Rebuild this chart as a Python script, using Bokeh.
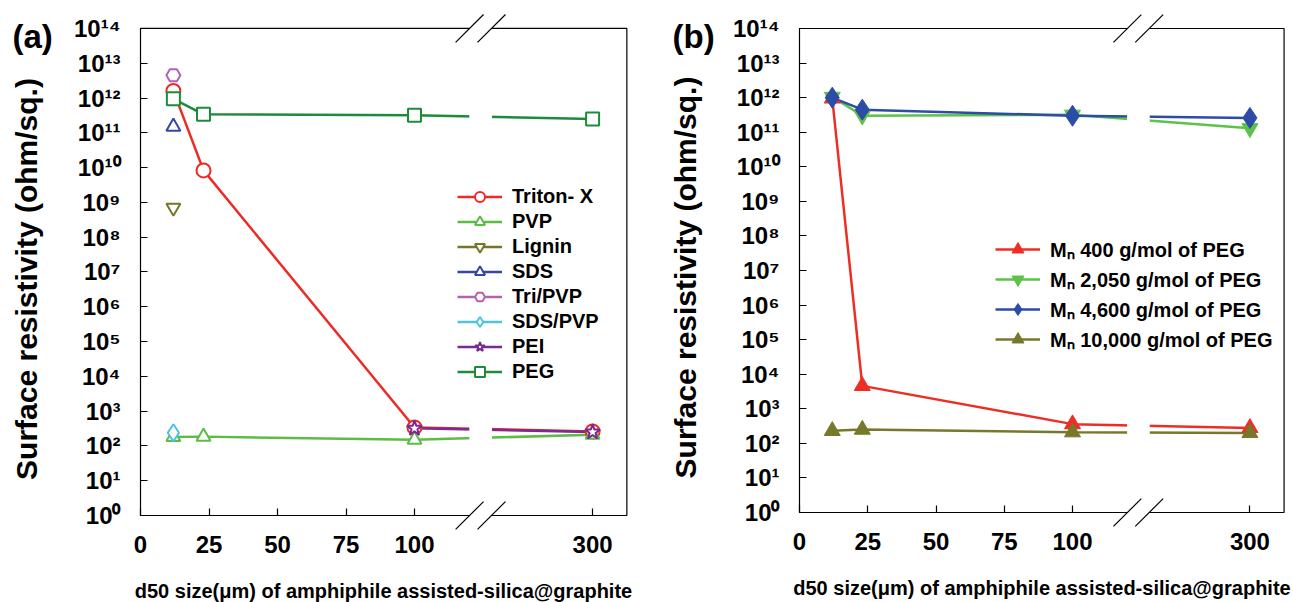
from bokeh.plotting import figure
from bokeh.models import FixedTicker, Range1d, Label
from bokeh.layouts import row
from bokeh.embed import file_html
from bokeh.resources import INLINE

# ---------------- data ----------------
x_tick_values = [0, 25, 50, 75, 100, 300]
y_tick_exponents = list(range(0, 15))

# panel (a)
a_names = ["Triton- X", "PVP", "Lignin", "SDS", "Tri/PVP", "SDS/PVP", "PEI", "PEG"]
triton_x = [12, 23, 100, 300]
triton_y = [1.6e12, 8.3e9, 3.4e2, 2.6e2]
pvp_x = [12, 23, 100, 300]
pvp_y = [1.8e2, 1.85e2, 1.5e2, 2.1e2]
lignin_x = [12]
lignin_y = [7.0e8]
sds_x = [12]
sds_y = [1.5e11]
tripvp_x = [12]
tripvp_y = [4.5e12]
sdspvp_x = [12]
sdspvp_y = [2.4e2]
pei_x = [100, 300]
pei_y = [3.2e2, 2.5e2]
peg_x = [12, 23, 100, 300]
peg_y = [9.5e11, 3.4e11, 3.2e11, 2.5e11]

# panel (b)
b_names = ["M\u2099 400 g/mol of PEG", "M\u2099 2,050 g/mol of PEG",
           "M\u2099 4,600 g/mol of PEG", "M\u2099 10,000 g/mol of PEG"]
b_x = [12, 23, 100, 300]
mn400_y = [9.5e11, 4.6e3, 3.6e2, 2.8e2]
mn2050_y = [1.05e12, 3.0e11, 3.2e11, 1.3e11]
mn4600_y = [1.0e12, 4.5e11, 3.0e11, 2.6e11]
mn10000_y = [2.3e2, 2.5e2, 2.1e2, 2.0e2]

FONT = "Liberation Sans"
SUP = str.maketrans("0123456789", "\u2070\u00b9\u00b2\u00b3\u2074\u2075\u2076\u2077\u2078\u2079")
X_END = 177.5          # right edge of the plot box (axis units)
GAP = (120.0, 128.3)   # axis break gap (axis units)


def to_axis(xs):
    """broken x axis: linear 0..120, then 300 placed right of the break"""
    return [float(v) if v <= 120 else 165.0 + (v - 300) * 0.05 for v in xs]


def make_fig(width, frame_left, ppu, frame_bottom, ppd):
    x_lo = -frame_left / ppu
    x_hi = (width - frame_left) / ppu
    y_lo = 10 ** (-(602 - frame_bottom) / ppd)
    y_hi = 10 ** (frame_bottom / ppd)
    p = figure(width=width, height=602, x_range=Range1d(x_lo, x_hi),
               y_range=Range1d(y_lo, y_hi), y_axis_type="log",
               output_backend="svg", toolbar_location=None, min_border=0)
    p.grid.visible = False
    p.outline_line_color = None
    p.background_fill_color = "white"
    p.border_fill_color = "white"

    xa, ya = p.xaxis[0], p.yaxis[0]
    xa.fixed_location = 1
    ya.fixed_location = 0
    xa.bounds = (0, X_END)
    ya.bounds = (10 ** -0.4, 1e14)

    xt = to_axis(x_tick_values)
    xa.ticker = FixedTicker(ticks=xt, minor_ticks=[])
    xa.major_label_overrides = {u: str(t) for u, t in zip(xt, x_tick_values)}
    yt = [10 ** n for n in y_tick_exponents]
    ya.ticker = FixedTicker(ticks=yt, minor_ticks=[])
    ya.major_label_overrides = {10 ** n: "10" + str(n).translate(SUP) for n in y_tick_exponents}

    for ax in (xa, ya):
        ax.axis_line_color = None
        ax.major_tick_in = 7
        ax.major_tick_out = 0
        ax.major_tick_line_color = "black"
        ax.major_tick_line_width = 1.2
        ax.minor_tick_line_color = None
        ax.major_label_text_font = FONT
        ax.major_label_text_font_style = "bold"
        ax.major_label_text_font_size = "24px"
        ax.major_label_text_color = "black"
        ax.axis_label_text_font = FONT
        ax.axis_label_text_font_style = "bold"
        ax.axis_label_text_color = "black"
    xa.major_label_standoff = 20
    ya.major_label_standoff = 20
    xa.axis_label = "d50 size(\u03bcm) of amphiphile assisted-silica@graphite"
    xa.axis_label_text_font_size = "20px"
    xa.axis_label_standoff = 24
    ya.axis_label = "Surface resistivity (ohm/sq.)"
    ya.axis_label_text_font_size = "30px"
    ya.axis_label_standoff = 28

    # plot box
    p.quad(left=0, right=X_END, bottom=1, top=1e14, fill_color=None,
           line_color="black", line_width=1.2)
    return p


def add_break(p):
    # white gap through lines and box edges
    p.quad(left=GAP[0], right=GAP[1], bottom=10 ** -0.06, top=10 ** 14.06,
           fill_color="white", line_color=None)
    x0s, x1s, y0s, y1s = [], [], [], []
    for e in (0, 14):
        for x0 in (115.0, 123.0):
            x0s.append(x0)
            x1s.append(x0 + 10.2)
            y0s.append(10 ** (e - 0.4))
            y1s.append(10 ** (e + 0.4))
    p.segment(x0=x0s, y0=y0s, x1=x1s, y1=y1s, line_color="black", line_width=1.2)


def style_legend(p, loc, gh):
    lg = p.legend[0]
    lg.location = loc
    lg.padding = 0
    lg.margin = 0
    lg.spacing = 0
    lg.glyph_width = 45
    lg.glyph_height = gh
    lg.label_height = 20
    lg.label_standoff = 10
    lg.label_text_font = FONT
    lg.label_text_font_style = "bold"
    lg.label_text_font_size = "20px"
    lg.label_text_color = "black"
    lg.background_fill_alpha = 0
    lg.border_line_alpha = 0


def panel_label(p, text, px, py, frame_left, ppu, frame_bottom, ppd):
    p.add_layout(Label(x=(px - frame_left) / ppu, y=10 ** ((frame_bottom - py) / ppd),
                       text=text, text_font=FONT, text_font_style="bold",
                       text_font_size="33px", text_baseline="middle",
                       text_align="left", text_color="black"))


# ---------------- panel (a) ----------------
A_GEOM = (140, 2.74, 515, 34.79)
pa = make_fig(647, *A_GEOM)
a_series = [
    (triton_x, triton_y, "#EE2A24", "circle", 14),
    (pvp_x, pvp_y, "#5DBB46", "triangle", 14),
    (lignin_x, lignin_y, "#76762A", "inverted_triangle", 14),
    (sds_x, sds_y, "#3446A6", "triangle", 14),
    (tripvp_x, tripvp_y, "#B063B5", "hex", 14),
    (sdspvp_x, sdspvp_y, "#4EC3E3", "diamond", 17),
    (pei_x, pei_y, "#7A2A90", "star", 16),
    (peg_x, peg_y, "#1E8B3B", "square", 13),
]
for (xs, ys, col, mk, sz), name in zip(a_series, a_names):
    pa.line(to_axis(xs), ys, line_color=col, line_width=2.5, legend_label=name)
add_break(pa)
for (xs, ys, col, mk, sz), name in zip(a_series, a_names):
    pa.scatter(to_axis(xs), ys, marker=mk, size=sz, line_color=col, line_width=2,
               fill_color="white", legend_label=name)
style_legend(pa, (457, 218), 25)
panel_label(pa, "(a)", 12, 36, *A_GEOM)

# ---------------- panel (b) ----------------
B_GEOM = (152, 2.73, 512, 34.57)
pb = make_fig(646, *B_GEOM)
b_series = [
    (mn400_y, "#EE2E24", "triangle", 16),
    (mn2050_y, "#5CC248", "inverted_triangle", 16),
    (mn4600_y, "#2C4CA6", "diamond", 21),
    (mn10000_y, "#78782C", "triangle", 16),
]
for (ys, col, mk, sz), name in zip(b_series, b_names):
    pb.line(to_axis(b_x), ys, line_color=col, line_width=2.5, legend_label=name)
add_break(pb)
for (ys, col, mk, sz), name in zip(b_series, b_names):
    pb.scatter(to_axis(b_x), ys, marker=mk, size=sz, line_color=col, line_width=1,
               fill_color=col, legend_label=name)
style_legend(pb, (348, 248), 30)
panel_label(pb, "(b)", 25, 36, *B_GEOM)

layout = row(pa, pb)
open("out.html", "w").write(file_html(layout, INLINE))
